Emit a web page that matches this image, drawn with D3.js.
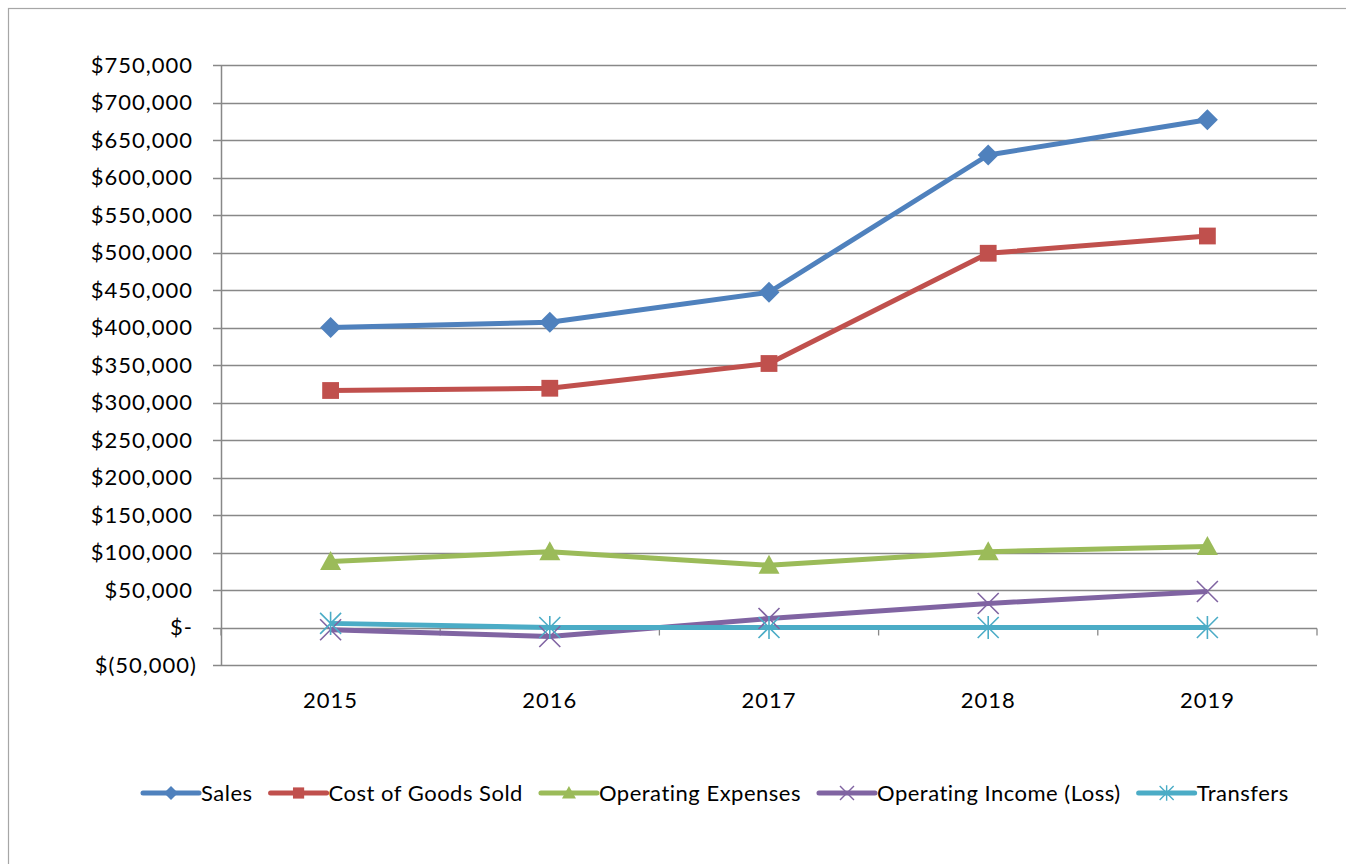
<!DOCTYPE html>
<html lang="en">
<head>
    <meta charset="UTF-8">
    <title>Financial Summary</title>
    <script src="https://d3js.org/d3.v7.min.js"></script>
    <style>
        body { margin: 0; background: #fff; }
        text { font-family: Lato, "Open Sans", sans-serif; fill: #000; }
    </style>
</head>
    <body>
        <script>
            // data
            const years = ['2015', '2016', '2017', '2018', '2019']
            const sales = [400000, 407000, 447000, 630000, 677000]
            const cogs = [316000, 319000, 352000, 499000, 522000]
            const opex = [88000, 101000, 83000, 101000, 108000]
            const opIncome = [-3000, -12000, 12000, 32000, 48000]
            const transfers = [5500, 0, 0, 0, 0]
            const seriesNames = ['Sales', 'Cost of Goods Sold', 'Operating Expenses', 'Operating Income (Loss)', 'Transfers']
            const yTicks = [-50000, 0, 50000, 100000, 150000, 200000, 250000, 300000, 350000, 400000, 450000, 500000, 550000, 600000, 650000, 700000, 750000]

            const colors = ['#4f81bd', '#c0504d', '#9bbb59', '#8064a2', '#4bacc6']
            const markers = ['diamond', 'square', 'triangle', 'x', 'star']

            const series = [sales, cogs, opex, opIncome, transfers].map((vals, i) => ({
                name: seriesNames[i],
                color: colors[i],
                marker: markers[i],
                values: vals.map((v, j) => ({ year: years[j], value: v }))
            }))

            let width = 1346
            let height = 864

            let margin = { top: 65, right: 29, bottom: 199, left: 221 }

            let svg = d3.select('body').append('svg').attr('width', width).attr('height', height)

            // chart frame
            svg.append('rect')
                .attr('x', 8.5).attr('y', 8.5)
                .attr('width', width + 20).attr('height', height + 20)
                .attr('fill', 'none').attr('stroke', '#a6a6a6').attr('stroke-width', 1.2)

            xScale = d3.scaleBand()
                .domain(years)
                .range([margin.left, width - margin.right])
                .padding(0)

            yScale = d3.scaleLinear()
                .domain([-50000, 750000])
                .range([height - margin.bottom, margin.top])

            const fmt = d => {
                if (d === 0) return '$-'
                if (d < 0) return '$(' + d3.format(',')(-d) + ')'
                return '$' + d3.format(',')(d)
            }

            // gridlines
            svg.append('g')
                .attr('class', 'grid')
                .selectAll('line')
                .data(yTicks)
                .join('line')
                .attr('x1', margin.left - 8)
                .attr('x2', width - margin.right)
                .attr('y1', d => Math.round(yScale(d)) + 0.5)
                .attr('y2', d => Math.round(yScale(d)) + 0.5)
                .attr('stroke', '#888')
                .attr('stroke-width', 1.3)

            // y axis labels
            svg.append('g')
                .attr('class', 'y-labels')
                .selectAll('text')
                .data(yTicks)
                .join('text')
                .attr('x', d => d < 0 ? 197 : 193)
                .attr('y', d => yScale(d))
                .attr('dy', '0.36em')
                .attr('text-anchor', 'end')
                .style('font-size', '22px')
                .style('letter-spacing', '1px')
                .text(fmt)

            // y axis line
            svg.append('line')
                .attr('x1', margin.left + 0.5).attr('x2', margin.left + 0.5)
                .attr('y1', yScale(750000)).attr('y2', yScale(-50000))
                .attr('stroke', '#888').attr('stroke-width', 1.5)

            // x axis on the zero line, ticks between categories
            const zeroY = Math.round(yScale(0)) + 0.5
            const bounds = years.map(y => xScale(y)).concat([width - margin.right])
            svg.append('g')
                .attr('class', 'x-ticks')
                .selectAll('line')
                .data(bounds)
                .join('line')
                .attr('x1', d => d).attr('x2', d => d)
                .attr('y1', zeroY).attr('y2', zeroY + 7)
                .attr('stroke', '#888').attr('stroke-width', 1.3)

            svg.append('g')
                .attr('class', 'x-labels')
                .selectAll('text')
                .data(years)
                .join('text')
                .attr('x', d => xScale(d) + xScale.bandwidth() / 2)
                .attr('y', 708)
                .attr('text-anchor', 'middle')
                .style('font-size', '22px')
                .style('letter-spacing', '1px')
                .text(d => d)

            // marker shapes
            const markerPath = (type, s) => {
                if (type === 'diamond') return `M0,${-s}L${s},0L0,${s}L${-s},0Z`
                if (type === 'square') return `M${-s * 0.8},${-s * 0.8}h${s * 1.6}v${s * 1.6}h${-s * 1.6}Z`
                if (type === 'triangle') return `M0,${-s}L${s},${s * 0.8}L${-s},${s * 0.8}Z`
                if (type === 'x') return `M${-s},${-s}L${s},${s}M${-s},${s}L${s},${-s}`
                return `M${-s},${-s}L${s},${s}M${-s},${s}L${s},${-s}M0,${-s * 1.1}V${s * 1.1}`
            }

            const line = d3.line()
                .x(d => xScale(d.year) + xScale.bandwidth() / 2)
                .y(d => yScale(d.value))

            const lines = svg.append('g').attr('class', 'lines')
            series.forEach(s => {
                lines.append('path')
                    .datum(s.values)
                    .attr('d', line)
                    .attr('fill', 'none')
                    .attr('stroke', s.color)
                    .attr('stroke-width', 5)
                    .attr('stroke-linejoin', 'round')
            })

            series.forEach(s => {
                const stroked = s.marker === 'x' || s.marker === 'star'
                lines.append('g')
                    .selectAll('path')
                    .data(s.values)
                    .join('path')
                    .attr('transform', d => `translate(${xScale(d.year) + xScale.bandwidth() / 2},${yScale(d.value)})`)
                    .attr('d', markerPath(s.marker, 10.5))
                    .attr('fill', stroked ? 'none' : s.color)
                    .attr('stroke', s.color)
                    .attr('stroke-width', stroked ? 1.6 : 0)
            })

            // legend
            const legend = svg.append('g').attr('class', 'legend').attr('transform', 'translate(0,793)')
            let lx = 143
            series.forEach(s => {
                const g = legend.append('g').attr('transform', `translate(${lx},0)`)
                g.append('line')
                    .attr('x1', 0).attr('x2', 56)
                    .attr('stroke', s.color).attr('stroke-width', 5).attr('stroke-linecap', 'round')
                const stroked = s.marker === 'x' || s.marker === 'star'
                g.append('path')
                    .attr('transform', 'translate(28,0)')
                    .attr('d', markerPath(s.marker, 7))
                    .attr('fill', stroked ? 'none' : s.color)
                    .attr('stroke', s.color)
                    .attr('stroke-width', stroked ? 1.4 : 0)
                const t = g.append('text')
                    .attr('x', 58)
                    .attr('dy', '0.35em')
                    .style('font-size', '22px')
                    .style('letter-spacing', '0.5px')
                    .text(s.name)
                lx += 58 + t.node().getComputedTextLength() + 18
            })
        </script>
    </body>
</html>
